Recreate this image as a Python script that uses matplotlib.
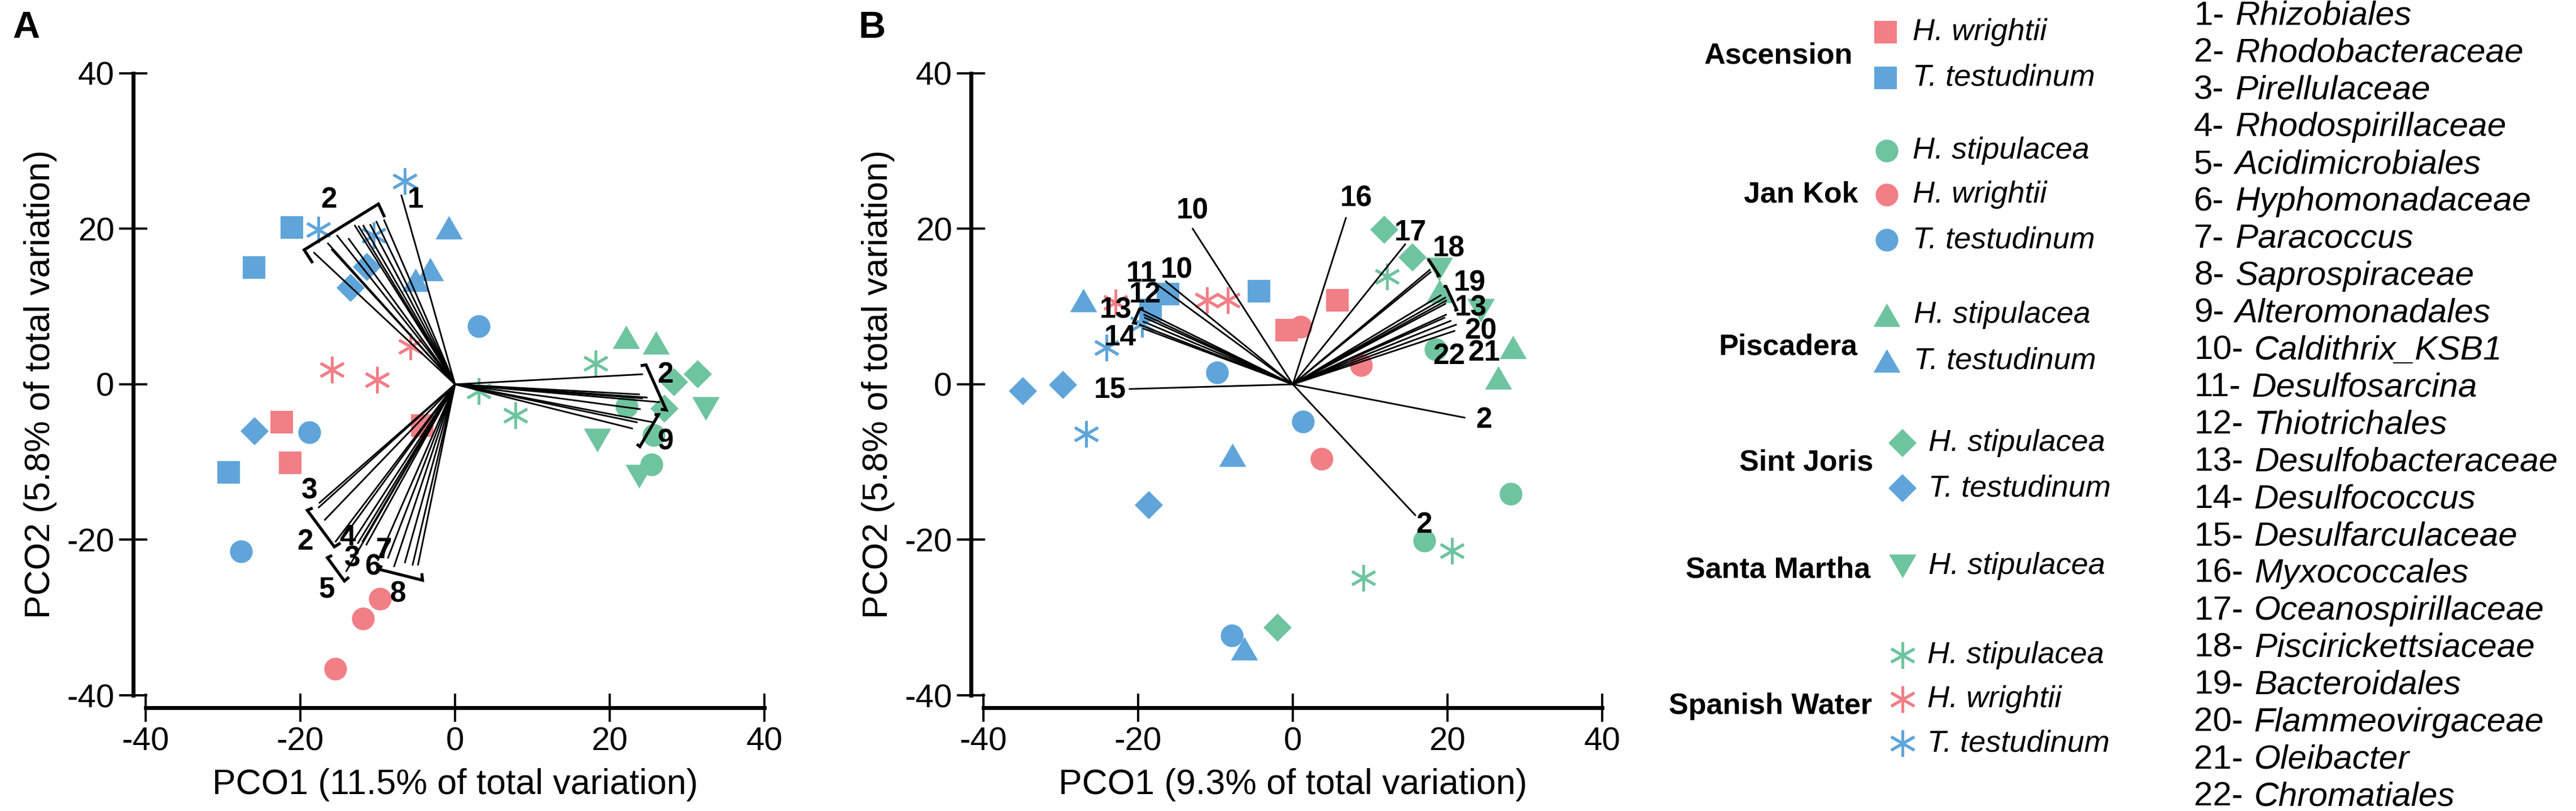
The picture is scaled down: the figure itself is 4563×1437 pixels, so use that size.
import matplotlib
matplotlib.use('Agg')
import matplotlib.pyplot as plt
from matplotlib.path import Path

plt.rcParams['font.family'] = ['Liberation Sans', 'DejaVu Sans']
plt.rcParams['axes.unicode_minus'] = False

W, H, DPI = 4563, 1437, 100

# ---------------- colours / marker styles ----------------
COL = {'H. stipulacea': '#6FC4A0', 'H. wrightii': '#F27E86', 'T. testudinum': '#5FA5DA'}
TRI_UP = Path([(0, 0.433), (-0.5, -0.433), (0.5, -0.433), (0, 0.433)], closed=True)
TRI_DN = Path([(0, -0.433), (-0.5, 0.433), (0.5, 0.433), (0, -0.433)], closed=True)
MARK = {'Ascension': ('s', 28.5), 'Jan Kok': ('o', 29), 'Piscadera': (TRI_UP, 34.5),
        'Sint Joris': ('D', 25.5), 'Santa Martha': (TRI_DN, 35), 'Spanish Water': ((6, 2, 0), 34)}

# ---------------- Panel A: sample scores ----------------
A_asc_hw_x = [-22.4, -21.3, -4.2];  A_asc_hw_y = [-4.9, -10.1, -5.3]
A_asc_tt_x = [-21.1, -26.0, -29.3]; A_asc_tt_y = [20.2, 15.0, -11.3]
A_jk_hs_x = [22.2, 25.7, 25.4];     A_jk_hs_y = [-2.8, -6.5, -10.3]
A_jk_hw_x = [-9.7, -11.9, -15.5];   A_jk_hw_y = [-27.6, -30.1, -36.6]
A_jk_tt_x = [3.1, -18.8, -27.7];    A_jk_tt_y = [7.5, -6.2, -21.5]
A_pis_hs_x = [22.1, 26.0];          A_pis_hs_y = [6.1, 5.4]
A_pis_tt_x = [-0.8, -3.2, -5.1];    A_pis_tt_y = [20.2, 14.8, 13.4]
A_sj_hs_x = [28.3, 31.4, 27.1];     A_sj_hs_y = [0.3, 1.3, -3.1]
A_sj_tt_x = [-13.5, -11.4, -25.9];  A_sj_tt_y = [12.4, 15.1, -6.0]
A_sm_hs_x = [32.4, 18.4, 23.8];     A_sm_hs_y = [-3.1, -7.2, -11.8]
A_sw_hs_x = [18.2, 7.8, 3.1];       A_sw_hs_y = [2.7, -4.0, -0.9]
A_sw_hw_x = [-15.9, -10.1, -5.8];   A_sw_hw_y = [1.9, 0.6, 4.9]
A_sw_tt_x = [-6.5, -17.7, -10.5];   A_sw_tt_y = [26.1, 19.9, 19.2]

# Panel A: vector (correlation) end points
A_vec_x = [-6.96, -18.3, -16.5, -16.0, -15.3, -13.8, -13.0, -12.5, -11.9, -11.0, -10.2, -9.2,
           -17.7, -17.6, -16.9, -15.5, -14.5, -14.1, -13.0, -12.6, -12.0, -11.5, -10.0, -8.7,
           -7.9, -6.5, -5.5, -4.8,
           24.3, 23.9, 24.9, 24.3, 26.5, 24.0, 25.7, 23.6, 23.0]
A_vec_y = [24.4, 17.0, 18.2, 17.4, 19.2, 18.8, 20.5, 20.4, 20.5, 20.6, 21.0, 21.2,
           -15.9, -15.3, -17.5, -20.3, -19.8, -24.1, -19.9, -20.5, -20.3, -20.7, -22.7, -22.4,
           -23.5, -23.0, -23.3, -23.3,
           1.3, -1.3, -1.7, -1.8, -2.3, -3.2, -4.9, -4.9, -5.7]
# Panel A: brackets grouping vectors (tip, corner, corner, tip)
A_br_x = [[-18.4, -19.5, -9.9, -9.1], [-18.4, -19.1, -15.6, -14.8], [-15.9, -16.5, -14.3, -13.7],
          [-9.5, -9.8, -4.2, -4.3], [24.0, 24.7, 27.3, 26.6], [25.8, 26.3, 23.9, 23.5]]
A_br_y = [[15.6, 17.3, 23.2, 21.5], [-15.9, -16.2, -20.9, -20.4], [-22.0, -22.3, -25.3, -24.8],
          [-23.3, -23.8, -25.2, -24.3], [2.4, 2.5, -3.3, -3.2], [-3.9, -3.9, -8.0, -7.7]]
A_lab = ['1', '2', '3', '2', '4', '3', '6', '7', '5', '8', '2', '9']
A_lab_x = [-5.1, -16.3, -18.8, -19.4, -13.9, -13.3, -10.6, -9.2, -16.6, -7.4, 27.2, 27.2]
A_lab_y = [23.7, 23.7, -13.7, -20.3, -19.7, -22.4, -23.5, -21.4, -26.4, -27.0, 1.2, -7.4]

# ---------------- Panel B: sample scores ----------------
B_asc_hw_x = [5.8, -0.8];           B_asc_hw_y = [10.8, 7.0]
B_asc_tt_x = [-4.4, -16.1, -18.4];  B_asc_tt_y = [12.0, 11.6, 9.6]
B_jk_hs_x = [28.2, 17.0, 18.5];     B_jk_hs_y = [-14.1, -20.1, 4.5]
B_jk_hw_x = [1.0, 8.8, 3.7];        B_jk_hw_y = [7.4, 2.5, -9.6]
B_jk_tt_x = [-9.8, 1.3, -7.9];      B_jk_tt_y = [1.5, -4.8, -32.3]
B_pis_hs_x = [28.5, 26.6, 19.0];    B_pis_hs_y = [4.8, 0.9, 12.0]
B_pis_tt_x = [-27.1, -7.8, -6.3];   B_pis_tt_y = [10.8, -9.1, -34.0]
B_sj_hs_x = [11.8, 15.5, -2.0];     B_sj_hs_y = [19.9, 16.3, -31.3]
B_sj_tt_x = [-34.9, -29.7, -18.6];  B_sj_tt_y = [-0.9, -0.1, -15.5]
B_sm_hs_x = [18.9, 24.3];           B_sm_hs_y = [14.8, 9.5]
B_sw_hs_x = [12.2, 9.1, 20.6];      B_sw_hs_y = [13.9, -24.9, -21.4]
B_sw_hw_x = [-11.1, -8.4, -22.9];   B_sw_hw_y = [10.8, 10.8, 10.5]
B_sw_tt_x = [-26.7, -24.1, -19.5];  B_sw_tt_y = [-6.4, 4.7, 7.8]

B_vec_x = [-13.0, 6.9, 14.6, -21.2, 22.3, 15.9,
           17.8, 17.9, 19.2, 19.8, 19.9, 19.8, 19.9, 19.7, 20.5, 21.2, 21.0,
           -16.5, -17.5, -19.6, -19.3, -19.2, -19.4, -19.9, -19.4]
B_vec_y = [20.1, 21.5, 18.1, -0.6, -4.3, -16.9,
           14.8, 14.5, 11.5, 11.2, 10.8, 10.4, 9.0, 8.6, 8.2, 7.7, 6.9,
           13.3, 12.8, 9.6, 9.0, 8.6, 8.1, 7.7, 7.2]
B_br_x = [[17.4, 17.6, 18.9, 18.6], [19.5, 19.8, 21.2, 20.9], [-19.3, -19.8, -20.6, -20.1]]
B_br_y = [[16.0, 16.0, 14.0, 13.9], [12.6, 12.6, 9.6, 9.5], [9.8, 9.7, 7.9, 7.8]]
B_lab = ['10', '16', '17', '18', '19', '13', '20', '21', '22', '2', '2',
         '15', '10', '11', '12', '13', '14']
B_lab_x = [-13.0, 8.2, 15.2, 20.2, 22.9, 23.0, 24.3, 24.7, 20.2, 24.7, 17.0,
           -23.6, -15.0, -19.6, -19.1, -22.9, -22.3]
B_lab_y = [22.3, 23.9, 19.5, 17.4, 13.0, 9.8, 6.8, 4.0, 3.6, -4.6, -18.1,
           -0.7, 14.7, 14.2, 11.5, 9.5, 6.0]

A_groups = [('Ascension', 'H. wrightii', A_asc_hw_x, A_asc_hw_y), ('Ascension', 'T. testudinum', A_asc_tt_x, A_asc_tt_y),
            ('Jan Kok', 'H. stipulacea', A_jk_hs_x, A_jk_hs_y), ('Jan Kok', 'H. wrightii', A_jk_hw_x, A_jk_hw_y),
            ('Jan Kok', 'T. testudinum', A_jk_tt_x, A_jk_tt_y), ('Piscadera', 'H. stipulacea', A_pis_hs_x, A_pis_hs_y),
            ('Piscadera', 'T. testudinum', A_pis_tt_x, A_pis_tt_y), ('Sint Joris', 'H. stipulacea', A_sj_hs_x, A_sj_hs_y),
            ('Sint Joris', 'T. testudinum', A_sj_tt_x, A_sj_tt_y), ('Santa Martha', 'H. stipulacea', A_sm_hs_x, A_sm_hs_y),
            ('Spanish Water', 'H. stipulacea', A_sw_hs_x, A_sw_hs_y), ('Spanish Water', 'H. wrightii', A_sw_hw_x, A_sw_hw_y),
            ('Spanish Water', 'T. testudinum', A_sw_tt_x, A_sw_tt_y)]
B_groups = [('Ascension', 'H. wrightii', B_asc_hw_x, B_asc_hw_y), ('Ascension', 'T. testudinum', B_asc_tt_x, B_asc_tt_y),
            ('Jan Kok', 'H. stipulacea', B_jk_hs_x, B_jk_hs_y), ('Jan Kok', 'H. wrightii', B_jk_hw_x, B_jk_hw_y),
            ('Jan Kok', 'T. testudinum', B_jk_tt_x, B_jk_tt_y), ('Piscadera', 'H. stipulacea', B_pis_hs_x, B_pis_hs_y),
            ('Piscadera', 'T. testudinum', B_pis_tt_x, B_pis_tt_y), ('Sint Joris', 'H. stipulacea', B_sj_hs_x, B_sj_hs_y),
            ('Sint Joris', 'T. testudinum', B_sj_tt_x, B_sj_tt_y), ('Santa Martha', 'H. stipulacea', B_sm_hs_x, B_sm_hs_y),
            ('Spanish Water', 'H. stipulacea', B_sw_hs_x, B_sw_hs_y), ('Spanish Water', 'H. wrightii', B_sw_hw_x, B_sw_hw_y),
            ('Spanish Water', 'T. testudinum', B_sw_tt_x, B_sw_tt_y)]

ticks = [-40, -20, 0, 20, 40]
legend_sites = ['Ascension', 'Jan Kok', 'Piscadera', 'Sint Joris', 'Santa Martha', 'Spanish Water']
legend_species = [['H. wrightii', 'T. testudinum'], ['H. stipulacea', 'H. wrightii', 'T. testudinum'],
                  ['H. stipulacea', 'T. testudinum'], ['H. stipulacea', 'T. testudinum'], ['H. stipulacea'],
                  ['H. stipulacea', 'H. wrightii', 'T. testudinum']]
taxa_names = ['Rhizobiales', 'Rhodobacteraceae', 'Pirellulaceae', 'Rhodospirillaceae', 'Acidimicrobiales',
              'Hyphomonadaceae', 'Paracoccus', 'Saprospiraceae', 'Alteromonadales', 'Caldithrix_KSB1',
              'Desulfosarcina', 'Thiotrichales', 'Desulfobacteraceae', 'Desulfococcus', 'Desulfarculaceae',
              'Myxococcales', 'Oceanospirillaceae', 'Piscirickettsiaceae', 'Bacteroidales', 'Flammeovirgaceae',
              'Oleibacter', 'Chromatiales']

# ---------------- layout (pixels) ----------------
def px_rect(left, top, right, bottom):
    return [left / W, 1 - bottom / H, (right - left) / W, (bottom - top) / H]

fig = plt.figure(figsize=(W / DPI, H / DPI), dpi=DPI)
axA = fig.add_axes(px_rect(258, 130, 1354, 1232))
axB = fig.add_axes(px_rect(1742, 130, 2838, 1232))


def marker_kw(site, sp):
    m, s = MARK[site]
    kw = dict(linestyle='none', marker=m, ms=s, clip_on=False)
    if site == 'Spanish Water':
        kw.update(mec=COL[sp], mfc=COL[sp], mew=3.6)
    else:
        kw.update(mfc=COL[sp], mec='none', mew=0)
    return kw


def draw_panel(ax, groups, vx, vy, brx, bry, labs, lx, ly, xlabel):
    for site, sp, xs, ys in groups:
        ax.plot(xs, ys, zorder=2, **marker_kw(site, sp))
    for x, y in zip(vx, vy):
        ax.plot([0, x], [0, y], color='black', lw=2.1, zorder=3, solid_capstyle='butt')
    for bx, by in zip(brx, bry):
        ax.plot(bx, by, color='black', lw=3.8, zorder=3, solid_joinstyle='miter', solid_capstyle='butt')
    for t, x, y in zip(labs, lx, ly):
        ax.text(x, y, t, fontsize=37, fontweight='bold', ha='center', va='center', zorder=4)
    ax.set_xlim(-40, 40)
    ax.set_ylim(-40, 40)
    ax.patch.set_visible(False)
    for s in ['top', 'right']:
        ax.spines[s].set_visible(False)
    for s in ['left', 'bottom']:
        ax.spines[s].set_position(('outward', 16))
        ax.spines[s].set_linewidth(5)
        ax.spines[s].set_bounds(-40, 40)
        ax.spines[s].set_capstyle('projecting')
    ax.set_xticks(ticks)
    ax.set_yticks(ticks)
    ax.tick_params(direction='inout', length=36, width=2.9, labelsize=42, pad=6)
    ax.set_xlabel(xlabel, fontsize=45, labelpad=14)
    ax.set_ylabel('PCO2 (5.8% of total variation)', fontsize=45, labelpad=12)


draw_panel(axA, A_groups, A_vec_x, A_vec_y, A_br_x, A_br_y, A_lab, A_lab_x, A_lab_y,
           'PCO1 (11.5% of total variation)')
draw_panel(axB, B_groups, B_vec_x, B_vec_y, B_br_x, B_br_y, B_lab, B_lab_x, B_lab_y,
           'PCO1 (9.3% of total variation)')

fig.text(46 / W, 1 - 50 / H, 'A', fontsize=48, fontweight='bold', ha='center', va='center')
fig.text(1545 / W, 1 - 50 / H, 'B', fontsize=48, fontweight='bold', ha='center', va='center')

# ---------------- legend (pixel overlay) ----------------
axL = fig.add_axes([0, 0, 1, 1])
axL.set_xlim(0, W)
axL.set_ylim(H, 0)
axL.axis('off')

site_label_xy = [(3282, 99), (3292, 345), (3290, 615), (3318, 820), (3313, 1010), (3316, 1251)]
entry_marker_x = [3340, 3342, 3342, 3370, 3370, 3370]
entry_text_x = [3388, 3388, 3390, 3416, 3416, 3414]
entry_y = [[57, 138], [267, 345, 425], [558, 639], [785, 865], [1003], [1161, 1239, 1317]]

for site, (sx, sy), mx, tx, ys, sps in zip(legend_sites, site_label_xy, entry_marker_x,
                                            entry_text_x, entry_y, legend_species):
    axL.text(sx, sy, site, fontsize=37.5, fontweight='bold', ha='right', va='center')
    for y, sp in zip(ys, sps):
        axL.plot([mx], [y], **marker_kw(site, sp))
        axL.text(tx, y, sp, fontsize=39, style='italic', ha='left', va='center')

for i, name in enumerate(taxa_names):
    y = 28 + 65.9 * i
    num = axL.text(3886, y, f'{i + 1}-', fontsize=43.5, ha='left', va='center')
    axL.annotate(name, xy=(1, 0.5), xycoords=num, xytext=(14, 0), textcoords='offset points',
                 fontsize=43.5, style='italic', ha='left', va='center')

fig.savefig('out.png', dpi=DPI)
